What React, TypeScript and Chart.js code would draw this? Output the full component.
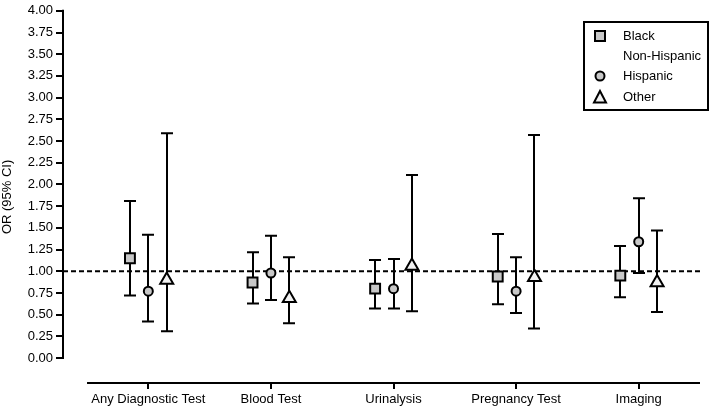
import React, { useEffect, useRef } from "react";
import { Chart, registerables } from "chart.js";

Chart.register(...registerables);

const categories = ["Any Diagnostic Test", "Blood Test", "Urinalysis", "Pregnancy Test", "Imaging"];
const yTicks = [0, 0.25, 0.5, 0.75, 1, 1.25, 1.5, 1.75, 2, 2.25, 2.5, 2.75, 3, 3.25, 3.5, 3.75, 4];

const blackOR = [1.15, 0.87, 0.8, 0.94, 0.95];
const blackLow = [0.72, 0.63, 0.57, 0.62, 0.7];
const blackHigh = [1.81, 1.22, 1.13, 1.43, 1.29];

const hispOR = [0.77, 0.98, 0.8, 0.77, 1.34];
const hispLow = [0.42, 0.67, 0.57, 0.52, 0.98];
const hispHigh = [1.42, 1.41, 1.14, 1.16, 1.84];

const otherOR = [0.9, 0.69, 1.06, 0.93, 0.87];
const otherLow = [0.31, 0.4, 0.54, 0.34, 0.53];
const otherHigh = [2.59, 1.16, 2.11, 2.57, 1.47];

const FONT = "'Liberation Sans', Arial, sans-serif";
const GRAY = "#c8c8c8";

const seriesDefs = [
  { label: "Black Non-Hispanic", or: blackOR, low: blackLow, high: blackHigh, offset: -0.15, style: "rect", radius: 7, fill: GRAY },
  { label: "Hispanic", or: hispOR, low: hispLow, high: hispHigh, offset: 0, style: "circle", radius: 4.5, fill: GRAY },
  { label: "Other", or: otherOR, low: otherLow, high: otherHigh, offset: 0.15, style: "triangle", radius: 7.5, fill: "#f2f2f2" },
];

function drawMarker(ctx: CanvasRenderingContext2D, style: string, x: number, y: number, fill: string) {
  ctx.save();
  ctx.fillStyle = fill;
  ctx.strokeStyle = "#000";
  ctx.lineWidth = 2;
  ctx.beginPath();
  if (style === "rect") {
    ctx.rect(x - 5, y - 5, 10, 10);
  } else if (style === "circle") {
    ctx.arc(x, y, 4.5, 0, Math.PI * 2);
  } else {
    ctx.moveTo(x, y - 7);
    ctx.lineTo(x + 6, y + 4.5);
    ctx.lineTo(x - 6, y + 4.5);
    ctx.closePath();
  }
  ctx.fill();
  ctx.stroke();
  ctx.restore();
}

const overlay = {
  id: "overlay",
  beforeDatasetsDraw(chart: any) {
    const { ctx, chartArea, scales } = chart;
    const x = scales.x;
    const y = scales.y;
    ctx.save();
    ctx.strokeStyle = "#000";
    ctx.lineWidth = 2;
    // y axis line
    ctx.beginPath();
    ctx.moveTo(chartArea.left, y.getPixelForValue(0) + 1);
    ctx.lineTo(chartArea.left, y.getPixelForValue(4) - 1);
    ctx.stroke();
    // x axis line
    ctx.beginPath();
    ctx.moveTo(x.getPixelForValue(-0.5), chartArea.bottom);
    ctx.lineTo(chartArea.right, chartArea.bottom);
    ctx.stroke();
    // reference line
    const y1 = y.getPixelForValue(1);
    ctx.setLineDash([5, 3]);
    ctx.beginPath();
    ctx.moveTo(chartArea.left, y1);
    ctx.lineTo(chartArea.right, y1);
    ctx.stroke();
    ctx.setLineDash([]);
    // error bars
    seriesDefs.forEach((s) => {
      s.low.forEach((lo, i) => {
        const px = Math.round(x.getPixelForValue(i + s.offset));
        const pl = y.getPixelForValue(lo);
        const ph = y.getPixelForValue(s.high[i]);
        ctx.beginPath();
        ctx.moveTo(px, pl);
        ctx.lineTo(px, ph);
        ctx.moveTo(px - 6, pl);
        ctx.lineTo(px + 6, pl);
        ctx.moveTo(px - 6, ph);
        ctx.lineTo(px + 6, ph);
        ctx.stroke();
      });
    });
    ctx.restore();
  },
  afterDraw(chart: any) {
    const { ctx } = chart;
    ctx.save();
    ctx.strokeStyle = "#000";
    ctx.lineWidth = 2;
    ctx.strokeRect(584, 22, 124, 88);
    ctx.fillStyle = "#000";
    ctx.font = "13px " + FONT;
    ctx.textBaseline = "middle";
    ctx.textAlign = "left";
    ctx.fillText("Black", 623, 36);
    ctx.fillText("Non-Hispanic", 623, 56);
    ctx.fillText("Hispanic", 623, 76);
    ctx.fillText("Other", 623, 97);
    drawMarker(ctx, "rect", 600, 36, GRAY);
    drawMarker(ctx, "circle", 600, 76, GRAY);
    drawMarker(ctx, "triangle", 600, 98, "#f2f2f2");
    ctx.restore();
  },
};

export default function App() {
  const ref = useRef<HTMLCanvasElement>(null);
  useEffect(() => {
    const canvas = ref.current;
    if (!canvas) return;
    Chart.defaults.font.family = FONT;
    Chart.defaults.font.size = 13;
    Chart.defaults.color = "#000";
    const chart = new Chart(canvas, {
      type: "scatter",
      data: {
        datasets: seriesDefs.map((s) => ({
          label: s.label,
          data: s.or.map((v, i) => ({ x: i + s.offset, y: v })),
          pointStyle: s.style as any,
          pointRadius: s.radius,
          pointHoverRadius: s.radius,
          pointBackgroundColor: s.fill,
          pointBorderColor: "#000",
          pointBorderWidth: 2,
          showLine: false,
        })),
      },
      options: {
        responsive: false,
        animation: false,
        layout: { padding: { top: 10, right: 13, left: 0, bottom: 0 } },
        plugins: { legend: { display: false }, tooltip: { enabled: false } },
        scales: {
          x: {
            type: "linear",
            min: -0.696,
            max: 4.5,
            afterBuildTicks: (scale: any) => {
              scale.ticks = categories.map((_, i) => ({ value: i }));
            },
            afterFit: (scale: any) => {
              scale.height = 29;
            },
            ticks: {
              autoSkip: false,
              maxRotation: 0,
              padding: 3,
              font: { size: 13 },
              callback: (v: any) => categories[Math.round(Number(v))] ?? "",
            },
            grid: { drawOnChartArea: false, drawTicks: true, tickLength: 6, lineWidth: 2, color: "#000" },
            border: { display: false },
          },
          y: {
            type: "linear",
            min: -0.287,
            max: 4,
            afterBuildTicks: (scale: any) => {
              scale.ticks = yTicks.map((v) => ({ value: v }));
            },
            afterFit: (scale: any) => {
              scale.width = 63;
            },
            ticks: {
              padding: 3,
              font: { size: 13 },
              callback: (v: any) => Number(v).toFixed(2),
            },
            grid: { drawOnChartArea: false, drawTicks: true, tickLength: 7, lineWidth: 2, color: "#000" },
            border: { display: false },
            title: { display: true, text: "OR (95% CI)", font: { size: 13 }, padding: { top: 0, bottom: 4 } },
          },
        },
      },
      plugins: [overlay],
    });
    return () => chart.destroy();
  }, []);
  return (
    <div style={{ position: "absolute", left: 0, top: 0, width: 713, height: 412, background: "#fff" }}>
      <canvas ref={ref} width={713} height={412} style={{ display: "block", width: 713, height: 412 }} />
    </div>
  );
}
